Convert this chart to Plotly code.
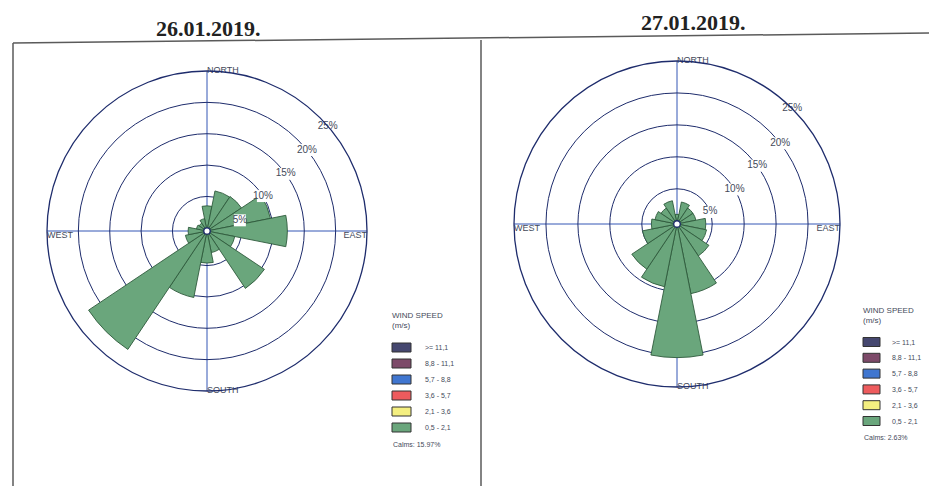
import plotly.graph_objects as go

# ---------------- data ----------------
DIRECTIONS = ["N", "NNE", "NE", "ENE", "E", "ESE", "SE", "SSE",
              "S", "SSW", "SW", "WSW", "W", "WNW", "NW", "NNW"]
DIR_DEG = [0, 22.5, 45, 67.5, 90, 112.5, 135, 157.5,
           180, 202.5, 225, 247.5, 270, 292.5, 315, 337.5]
# frequency (%) of wind class 0,5 - 2,1 m/s per direction
FREQ_26 = [3.5, 6.0, 6.1, 9.8, 12.3, 4.0, 10.5, 3.0,
           4.6, 10.3, 22.2, 3.0, 2.5, 1.2, 1.0, 1.5]
FREQ_27 = [1.0, 3.0, 2.5, 2.5, 4.0, 4.2, 5.5, 10.6,
           20.4, 9.5, 8.0, 5.0, 3.5, 3.0, 2.5, 3.2]

SPEED_CLASSES = [">= 11,1", "8,8 - 11,1", "5,7 - 8,8", "3,6 - 5,7", "2,1 - 3,6", "0,5 - 2,1"]
CLASS_COLORS = ["#45476f", "#7d4a69", "#4076d0", "#ee5b5d", "#f4ef80", "#6aa67c"]
CALMS = ["Calms: 15.97%", "Calms: 2.63%"]
DATES = ["26.01.2019.", "27.01.2019."]
LEGEND_TITLE = ["WIND SPEED", "(m/s)"]

RING_VALUES = [5, 10, 15, 20, 25]
RING_LABELS = ["5%", "10%", "15%", "20%", "25%"]
RING_LABEL_THETA_26 = [72, 58, 54, 51, 49]
RING_LABEL_THETA_27 = [70, 59, 54, 52, 45]

COMPASS = ["NORTH", "EAST", "SOUTH", "WEST"]
COMPASS_DEG = [0, 90, 180, 270]
COMPASS_R = [25, 25, 25, 25]
COMPASS_POS = ["middle right", "bottom left", "middle right", "bottom right"]

# the html body adds an 8px margin around the figure
OFF = 8
W, H = 937 - OFF, 486 - OFF
RING_COLOR = "#1e2c6c"
CROSS_COLOR = "#3556b5"
TEXT_COLOR = "#444a5a"
SANS = "Liberation Sans"


def px(x):
    return (x - OFF) / W


def py(y):
    return (H - (y - OFF)) / H


fig = go.Figure()

datasets = [
    ("polar", FREQ_26, RING_LABEL_THETA_26),
    ("polar2", FREQ_27, RING_LABEL_THETA_27),
]

for sub, freq, ring_theta in datasets:
    fig.add_trace(go.Barpolar(
        r=freq, theta=DIR_DEG, width=[22.5] * len(DIR_DEG),
        name=SPEED_CLASSES[-1], subplot=sub, showlegend=False,
        marker=dict(color=CLASS_COLORS[-1], line=dict(color="#2f5a3c", width=0.9)),
        text=DIRECTIONS, hoverinfo="text+r",
    ))
    # ring labels
    fig.add_trace(go.Scatterpolar(
        r=RING_VALUES, theta=ring_theta, mode="markers+text", text=RING_LABELS,
        textposition="middle center", subplot=sub, showlegend=False,
        marker=dict(symbol="square", size=12, color="white"),
        textfont=dict(family=SANS, size=10, color=TEXT_COLOR),
        hoverinfo="skip",
    ))
    # compass labels
    fig.add_trace(go.Scatterpolar(
        r=COMPASS_R, theta=COMPASS_DEG, mode="text", text=COMPASS,
        textposition=COMPASS_POS, subplot=sub, showlegend=False,
        textfont=dict(family=SANS, size=9, color=TEXT_COLOR),
        hoverinfo="skip",
    ))


def polar_layout(cx, cy, rad):
    return dict(
        domain=dict(x=[px(cx - rad), px(cx + rad)],
                    y=[py(cy + rad), py(cy - rad)]),
        bgcolor="rgba(0,0,0,0)",
        hole=0.02,
        radialaxis=dict(range=[0, 25], tickvals=RING_VALUES[:-1], showticklabels=False,
                        ticks="", showline=False, gridcolor=RING_COLOR, gridwidth=1.3),
        angularaxis=dict(rotation=90, direction="clockwise", tickvals=COMPASS_DEG,
                         showticklabels=False, ticks="", gridcolor=CROSS_COLOR, gridwidth=1,
                         linecolor=RING_COLOR, linewidth=1.3),
    )


annotations = [
    dict(text="<b>%s</b>" % DATES[0], x=px(208), y=py(29), xref="paper", yref="paper",
         xanchor="center", yanchor="middle", showarrow=False,
         font=dict(family="Liberation Serif", size=22, color="#222222")),
    dict(text="<b>%s</b>" % DATES[1], x=px(693), y=py(22), xref="paper", yref="paper",
         xanchor="center", yanchor="middle", showarrow=False,
         font=dict(family="Liberation Serif", size=22, color="#222222")),
]
shapes = []

# manual legends: (box x0, box x1, label x, title y, first box centre y, step, calms y)
legend_specs = [
    (392, 411, 423, 315, 347.5, 16.0, 0, 444),
    (863, 880, 890, 310, 342.0, 15.8, 1, 437),
]
for bx0, bx1, lx, ty, y0, step, k, cy in legend_specs:
    annotations.append(dict(
        text=LEGEND_TITLE[0] + "<br>" + LEGEND_TITLE[1], x=px(bx0 - 2), y=py(ty - 6),
        xref="paper", yref="paper", xanchor="left", yanchor="top", align="left",
        showarrow=False, font=dict(family=SANS, size=8, color=TEXT_COLOR)))
    for i, (name, col) in enumerate(zip(SPEED_CLASSES, CLASS_COLORS)):
        yc = y0 + i * step
        shapes.append(dict(type="rect", xref="paper", yref="paper",
                           x0=px(bx0), x1=px(bx1), y0=py(yc + 4.5), y1=py(yc - 4.5),
                           fillcolor=col, line=dict(color="#333333", width=1)))
        annotations.append(dict(text=name, x=px(lx), y=py(yc), xref="paper", yref="paper",
                                xanchor="left", yanchor="middle", showarrow=False,
                                font=dict(family=SANS, size=7, color=TEXT_COLOR)))
    annotations.append(dict(text=CALMS[k], x=px(bx0 - 1), y=py(cy), xref="paper", yref="paper",
                            xanchor="left", yanchor="middle", showarrow=False,
                            font=dict(family=SANS, size=7, color=TEXT_COLOR)))

border = dict(color="#5a5a5a", width=1.5)
shapes += [
    dict(type="line", xref="paper", yref="paper", x0=px(13), y0=py(43),
         x1=1, y1=py(33), line=border),
    dict(type="line", xref="paper", yref="paper", x0=px(13), y0=py(43),
         x1=px(13), y1=0, line=border),
    dict(type="line", xref="paper", yref="paper", x0=px(481), y0=py(40),
         x1=px(481), y1=0, line=border),
]

fig.update_layout(
    width=W, height=H,
    margin=dict(l=0, r=0, t=0, b=0),
    paper_bgcolor="white",
    plot_bgcolor="white",
    showlegend=False,
    polar=polar_layout(207, 231, 160),
    polar2=polar_layout(677, 224, 163),
    annotations=annotations,
    shapes=shapes,
)

fig.write_html("out.html")
